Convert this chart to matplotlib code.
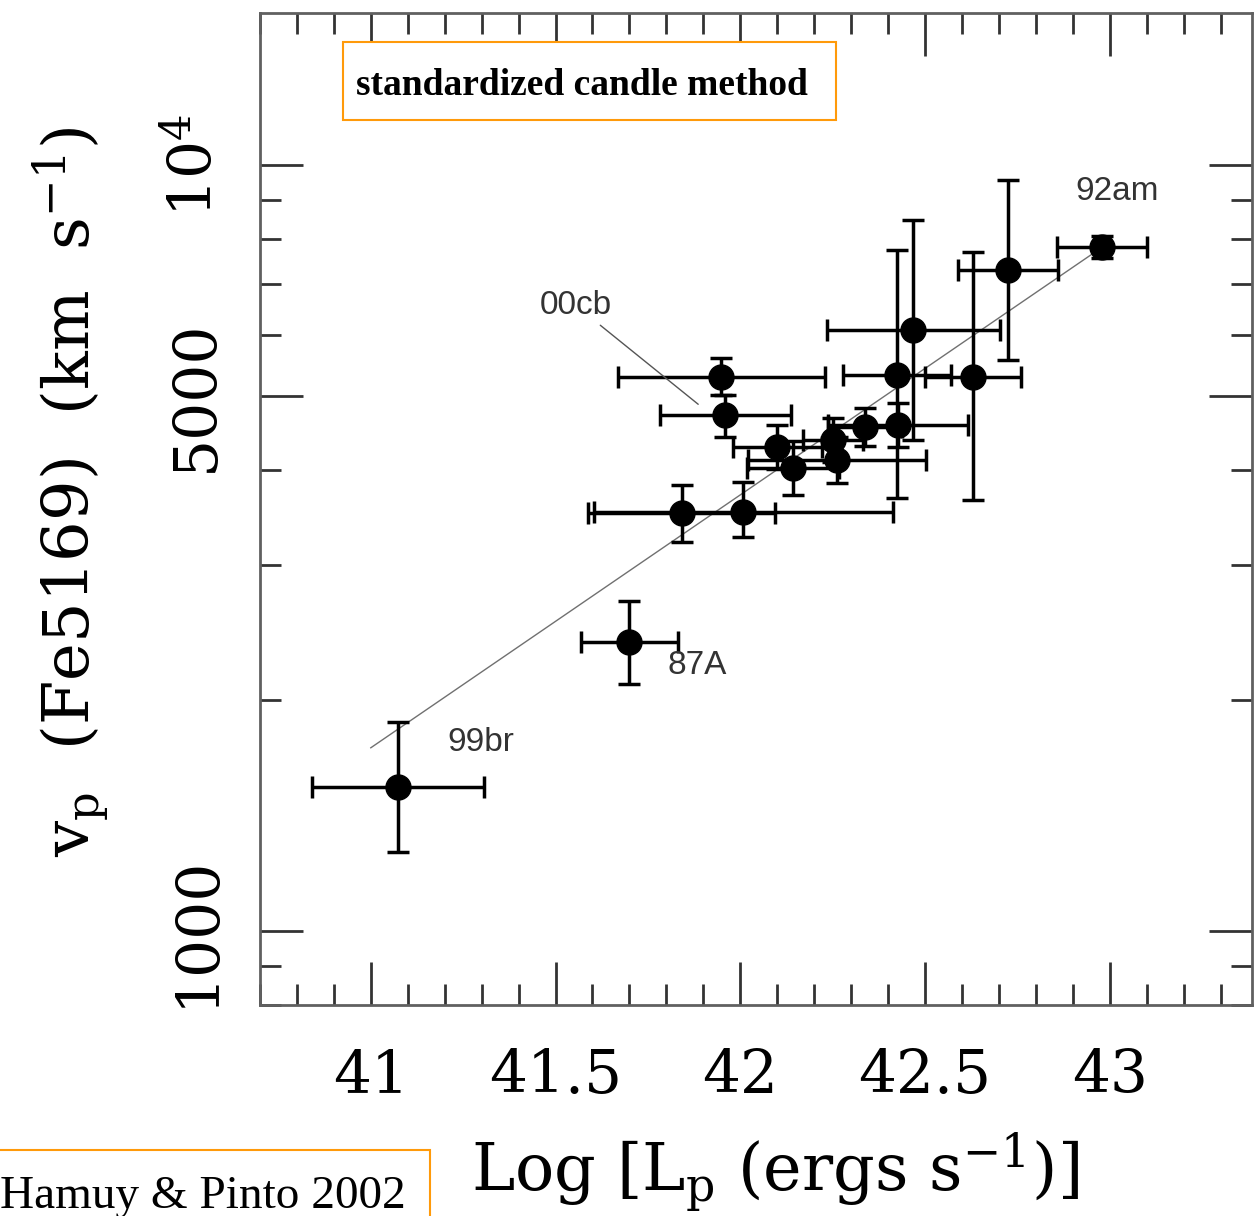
import matplotlib
matplotlib.use('Agg')
import matplotlib.pyplot as plt
from matplotlib.patches import Rectangle
from matplotlib.ticker import FixedLocator, MultipleLocator, NullFormatter

plt.rcParams['font.family'] = 'DejaVu Serif'
plt.rcParams['mathtext.fontset'] = 'dejavuserif'

# peak luminosity (log, erg/s) and its half error
log_lp = [41.073, 41.700, 41.841, 42.008, 41.959, 41.949, 42.100, 42.143, 42.251,
          42.262, 42.338, 42.427, 42.424, 42.468, 42.630, 42.724, 42.978]
log_lp_err = [0.233, 0.132, 0.254, 0.405, 0.177, 0.281, 0.120, 0.124, 0.080,
              0.240, 0.100, 0.190, 0.146, 0.234, 0.130, 0.135, 0.122]
# Fe5169 velocity (km/s) with lower / upper ends of the error bar
vp = [1542, 2384, 3513, 3520, 4717, 5289, 4285, 4022, 4377,
      4121, 4550, 4577, 5321, 6091, 5287, 7295, 7816]
vp_lo = [1268, 2101, 3221, 3268, 4415, 5011, 4012, 3707, 4096,
         3846, 4297, 4285, 3675, 4375, 3653, 5564, 7562]
vp_hi = [1875, 2698, 3822, 3856, 5011, 5598, 4577, 4363, 4677,
         4415, 4818, 4890, 7745, 8477, 7697, 9559, 8078]

# fitted relation
fit_log_lp = [41.0, 42.968]
fit_vp = [1734, 7745]

# labelled supernovae: name, text position
sn_labels = ['99br', '87A', '92am']
sn_label_x = [41.297, 41.884, 43.019]
sn_label_v = [1760, 2223, 9247]
cb_text_xy = (41.554, 6562)
cb_point_xy = (41.892, 4846)

x_major = [41, 41.5, 42, 42.5, 43]
x_major_labels = ['41', '41.5', '42', '42.5', '43']
y_major = [1000, 5000, 10000]
y_major_labels = ['1000', '5000', r'$10^4$']
y_minor = [800, 900, 2000, 3000, 4000, 6000, 7000, 8000, 9000]

fig = plt.figure(figsize=(12.54, 12.16), dpi=100)
ax = fig.add_axes([0.2073, 0.1735, 0.7911, 0.8158])

ax.plot(fit_log_lp, fit_vp, color='#707070', linewidth=1.0, zorder=1)
yerr = [[v - lo for v, lo in zip(vp, vp_lo)], [hi - v for v, hi in zip(vp, vp_hi)]]
ax.errorbar(log_lp, vp, xerr=log_lp_err, yerr=yerr, fmt='o', color='black',
            markersize=18, elinewidth=2.5, capsize=8, capthick=2.5, zorder=2)

for name, lx, lv in zip(sn_labels, sn_label_x, sn_label_v):
    ax.text(lx, lv, name, fontsize=24, family='Liberation Sans', color='#333333',
            ha='center', va='center')
ax.annotate('00cb', xy=cb_point_xy, xytext=cb_text_xy, fontsize=24,
            family='Liberation Sans', color='#333333', ha='center', va='center',
            arrowprops=dict(arrowstyle='-', color='#555555', linewidth=1.0))

ax.set_yscale('log')
ax.set_xlim(40.70, 43.385)
ax.set_ylim(800, 15800)

ax.xaxis.set_major_locator(FixedLocator(x_major))
ax.set_xticklabels(x_major_labels)
ax.xaxis.set_minor_locator(MultipleLocator(0.1))
ax.yaxis.set_major_locator(FixedLocator(y_major))
ax.set_yticklabels(y_major_labels)
ax.yaxis.set_minor_locator(FixedLocator(y_minor))
ax.yaxis.set_minor_formatter(NullFormatter())
for lab in ax.get_yticklabels():
    lab.set_rotation(90)
    lab.set_va('center')

ax.tick_params(which='both', direction='in', top=True, right=True,
               color='#333333', labelsize=43)
ax.tick_params(which='major', length=31, width=2)
ax.tick_params(which='minor', length=15, width=2)
ax.tick_params(axis='x', which='major', pad=30)
ax.tick_params(axis='y', which='major', pad=25)
for sp in ax.spines.values():
    sp.set_color('#606060')
    sp.set_linewidth(2)

ax.set_xlabel(r'Log [L$_{\mathrm{p}}$ (ergs s$^{-1}$)]', fontsize=47)
ax.xaxis.set_label_coords(0.519, -0.126)
ax.set_ylabel(r'v$_{\mathrm{p}}$  (Fe5169)  (km  s$^{-1}$)', fontsize=46)
ax.yaxis.set_label_coords(-0.150, 0.517)

orange = '#FF9A0A'
fig.add_artist(Rectangle((0.2735, 0.9013), 0.3931, 0.0641, transform=fig.transFigure,
                         facecolor='white', edgecolor=orange, linewidth=1.5, zorder=5))
fig.text(0.2839, 0.9300, 'standardized candle method', fontsize=27,
         family='Liberation Serif', weight='bold', ha='left', va='center', zorder=6)
fig.add_artist(Rectangle((-0.01, -0.01), 0.3529, 0.0643, transform=fig.transFigure,
                         facecolor='white', edgecolor=orange, linewidth=1.5, zorder=5))
fig.text(0.0, 0.0066, 'Hamuy & Pinto 2002', fontsize=34, family='Liberation Serif',
         ha='left', va='baseline', zorder=6)

fig.savefig('out.png', dpi=100)
